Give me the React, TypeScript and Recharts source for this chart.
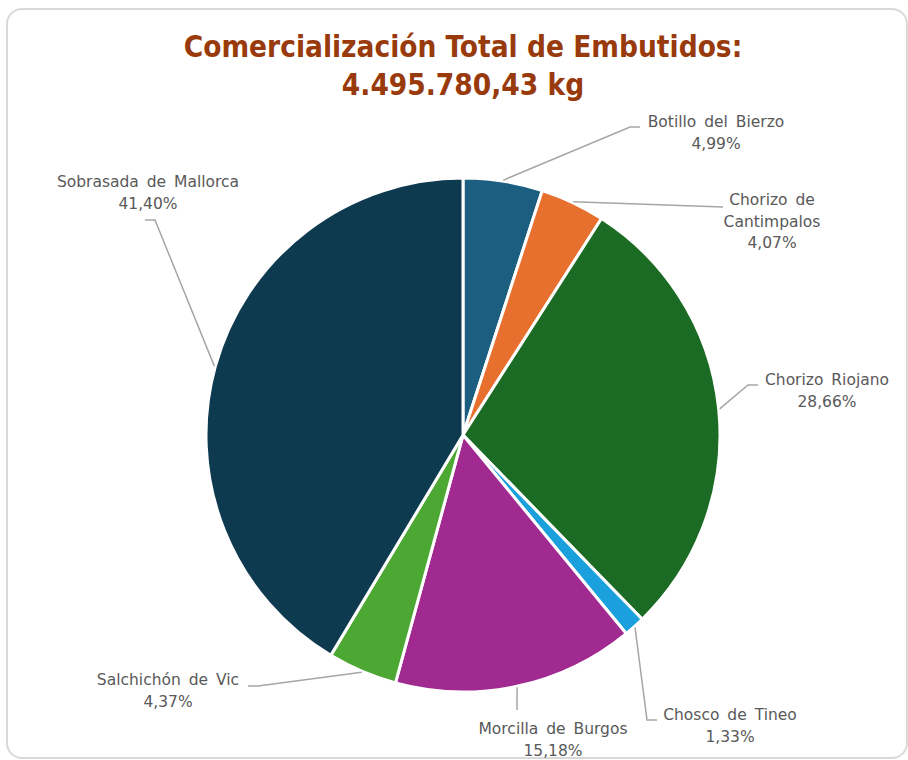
import { Cell, Pie, PieChart } from "recharts";

const names = [
  "Botillo del Bierzo",
  "Chorizo de Cantimpalos",
  "Chorizo Riojano",
  "Chosco de Tineo",
  "Morcilla de Burgos",
  "Salchichón de Vic",
  "Sobrasada de Mallorca",
];
const shares = [4.99, 4.07, 28.66, 1.33, 15.18, 4.37, 41.4];
const colors = ["#1b5e80", "#e8702f", "#1c6b25", "#1aa0dc", "#a02a90", "#4ca832", "#0e3a50"];
// Excel wrapped this one label onto two lines
const nameLines = [
  ["Botillo del Bierzo"],
  ["Chorizo de", "Cantimpalos"],
  ["Chorizo Riojano"],
  ["Chosco de Tineo"],
  ["Morcilla de Burgos"],
  ["Salchichón de Vic"],
  ["Sobrasada de Mallorca"],
];

const totalLabel = "4.495.780,43 kg";

// hand-placed label boxes: text centre x, first line y, leader elbow and end
const labelLayout = [
  { tx: 716, ty: 122, elbow: [630, 127], end: [640, 127] },
  { tx: 772, ty: 200, elbow: [723, 207], end: [723, 207] },
  { tx: 827, ty: 380, elbow: [748, 385], end: [758, 385] },
  { tx: 730, ty: 715, elbow: [647, 720], end: [657, 720] },
  { tx: 553, ty: 729, elbow: [517, 710], end: [517, 710] },
  { tx: 168, ty: 680, elbow: [258, 686], end: [248, 686] },
  { tx: 148, ty: 182, elbow: [155, 220], end: [145, 220] },
];

const rows = names.map((name, i) => ({ name, value: shares[i] }));

const TITLE_FONT = '"DejaVu Sans Condensed", "DejaVu Sans", sans-serif';
const FONT = '"DejaVu Sans", sans-serif';
const RAD = Math.PI / 180;

const fmtPct = (v: number) => `${v.toFixed(2).replace(".", ",")}%`;

function SliceLabel(props: any) {
  const { cx, cy, midAngle, outerRadius, index } = props;
  const lay = labelLayout[index];
  const sx = cx + (outerRadius + 1) * Math.cos(-midAngle * RAD);
  const sy = cy + (outerRadius + 1) * Math.sin(-midAngle * RAD);
  const lines = [...nameLines[index], fmtPct(shares[index])];
  return (
    <g>
      <polyline
        points={`${sx},${sy} ${lay.elbow[0]},${lay.elbow[1]} ${lay.end[0]},${lay.end[1]}`}
        fill="none"
        stroke="#a6a6a6"
        strokeWidth={1.5}
      />
      <text
        x={lay.tx}
        y={lay.ty}
        textAnchor="middle"
        fill="#595959"
        fontSize={15.5}
        fontFamily={FONT}
        style={{ wordSpacing: 3 }}
      >
        {lines.map((l, i) => (
          <tspan key={i} x={lay.tx} dy={i === 0 ? 5 : 21.5}>
            {l}
          </tspan>
        ))}
      </text>
    </g>
  );
}

export default function App() {
  return (
    <div style={{ position: "absolute", left: 0, top: 0, width: 908, height: 760, background: "#fff" }}>
      <div
        style={{
          position: "absolute",
          left: 6,
          top: 8,
          width: 902,
          height: 751,
          boxSizing: "border-box",
          border: "2px solid #d9d9d9",
          borderRadius: 16,
        }}
      />
      <div
        style={{
          position: "absolute",
          left: 0,
          top: 28,
          width: 926,
          textAlign: "center",
          fontFamily: TITLE_FONT,
          fontWeight: "bold",
          fontSize: 29.5,
          lineHeight: "38px",
          color: "#983a0b",
        }}
      >
        Comercialización Total de Embutidos:
        <br />
        {totalLabel}
      </div>
      <div style={{ position: "absolute", left: 0, top: 0 }}>
        <PieChart width={908} height={760} margin={{ top: 0, right: 0, bottom: 0, left: 0 }}>
          <Pie
            data={rows}
            dataKey="value"
            nameKey="name"
            cx={463}
            cy={435}
            outerRadius={257}
            startAngle={90}
            endAngle={-270}
            stroke="#ffffff"
            strokeWidth={3}
            label={SliceLabel}
            labelLine={false}
            isAnimationActive={false}
          >
            {rows.map((r, i) => (
              <Cell key={r.name} fill={colors[i]} />
            ))}
          </Pie>
        </PieChart>
      </div>
    </div>
  );
}
